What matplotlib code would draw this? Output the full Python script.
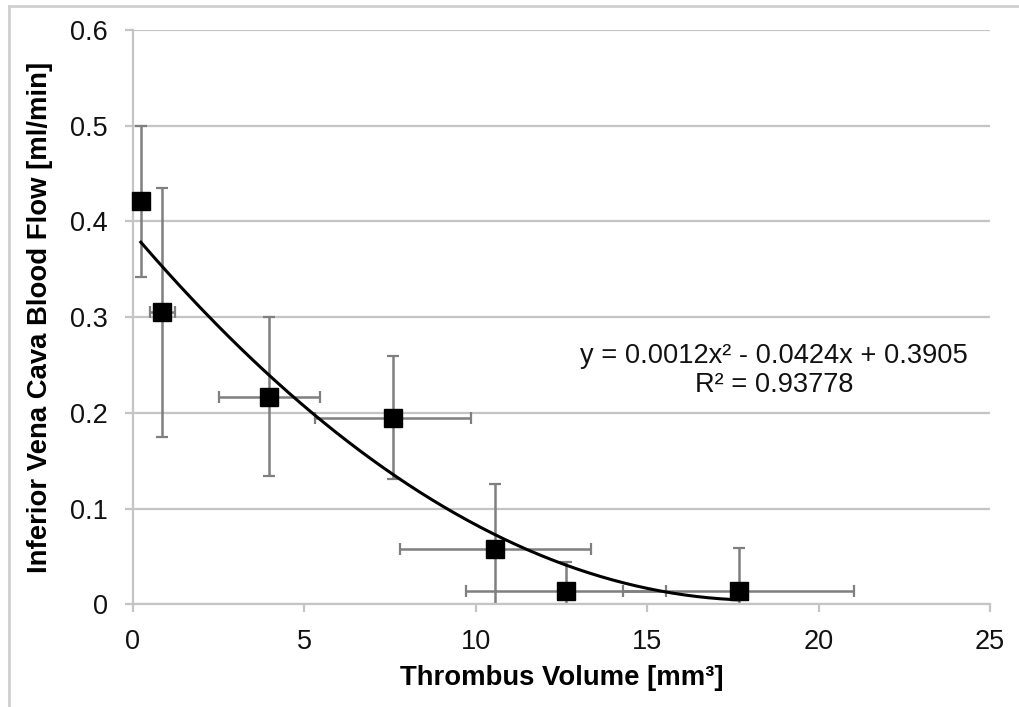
import numpy as np
import matplotlib
matplotlib.use("Agg")
import matplotlib.pyplot as plt
from matplotlib.lines import Line2D

# Data
volume = [0.24, 0.87, 3.99, 7.59, 10.58, 12.63, 17.67]
volume_err = [0.0, 0.37, 1.46, 2.27, 2.79, 2.92, 3.37]
flow = [0.421, 0.305, 0.217, 0.195, 0.058, 0.014, 0.014]
flow_err = [0.079, 0.130, 0.083, 0.064, 0.068, 0.030, 0.045]
x_ticks = [0, 5, 10, 15, 20, 25]
y_ticks = [0, 0.1, 0.2, 0.3, 0.4, 0.5, 0.6]
y_tick_labels = ["0", "0.1", "0.2", "0.3", "0.4", "0.5", "0.6"]
eq_lines = ["y = 0.0012x² - 0.0424x + 0.3905", "R² = 0.93778"]

plt.rcParams['font.family'] = ['Liberation Sans', 'DejaVu Sans']

W, H = 1019, 707
fig = plt.figure(figsize=(W / 100, H / 100), dpi=100)
ax = fig.add_axes([132.6 / W, 1 - 604.3 / H, (990 - 132.6) / W, (604.3 - 30) / H])

grid_c = '#c4c4c4'
ax.set_xlim(0, 25)
ax.set_ylim(0, 0.6)
ax.set_xticks(x_ticks)
ax.set_xticklabels([str(t) for t in x_ticks])
ax.set_yticks(y_ticks)
ax.set_yticklabels(y_tick_labels)
ax.yaxis.grid(True, color=grid_c, linewidth=1.6)
ax.set_axisbelow(True)
for s in ['top', 'right']:
    ax.spines[s].set_visible(False)
for s in ['left', 'bottom']:
    ax.spines[s].set_color(grid_c)
    ax.spines[s].set_linewidth(1.6)
ax.tick_params(axis='both', direction='out', length=6, width=1.6, color=grid_c,
               labelsize=19.5, labelcolor='#111111')
ax.tick_params(axis='y', pad=12)
ax.tick_params(axis='x', pad=12)

# Polynomial (order 2) trend line fitted to the data, over the data range
coef = np.polyfit(volume, flow, 2)
xs = np.linspace(min(volume), max(volume), 200)
ax.plot(xs, np.polyval(coef, xs), color='black', lw=2.2, zorder=3)

ax.errorbar(volume, flow, xerr=volume_err, yerr=flow_err, fmt='none',
            ecolor='#7f7f7f', elinewidth=1.8, capsize=4, capthick=1.6, zorder=2)
ax.plot(volume, flow, 's', color='black', markersize=13, zorder=4, clip_on=False)

for line, ypix in zip(eq_lines, [363, 392]):
    fig.text(774 / W, 1 - ypix / H, line, ha='center', va='baseline',
             fontsize=19.6, color='#111111')

ax.set_xlabel("Thrombus Volume [mm³]", fontsize=19.8, fontweight='bold', labelpad=7)
ax.set_ylabel("Inferior Vena Cava Blood Flow [ml/min]", fontsize=19.8, fontweight='bold', labelpad=12)

# figure frame (partially visible)
fig.add_artist(Line2D([9.3 / W, 1.0], [1 - 6 / H, 1 - 6 / H], transform=fig.transFigure,
                      color='#cfcfcf', lw=2))
fig.add_artist(Line2D([9.3 / W, 9.3 / W], [0, 1 - 6 / H], transform=fig.transFigure,
                      color='#cfcfcf', lw=2))

fig.savefig('out.png', dpi=100)
